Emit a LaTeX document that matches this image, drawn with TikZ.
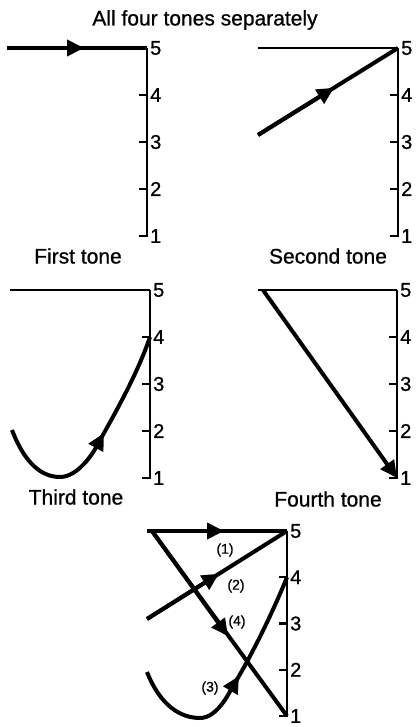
\documentclass[tikz,border=0pt]{standalone}
\usepackage{fontspec}
\setmainfont{Liberation Sans}[FakeBold=0.8]
\usetikzlibrary{arrows.meta}
\newcommand{\toneaxis}[4]{%
  \foreach \k in {1,...,5} {\coordinate (#1-\k) at (#2,{#3+(5-\k)*#4});}
  \draw[axisline] (#1-5) -- (#1-1) -- ++(-8,0);
  \foreach \k in {2,3,4} {\draw[axisline] (#1-\k) -- ++(-8,0);}
  \foreach \k in {1,...,5} {\node[lvl] (#1-l\k) at ([xshift=3pt]#1-\k) {\k};}
}
\begin{document}
\begin{tikzpicture}[x=1pt,y=-1pt,
  axisline/.style={line width=2.2pt},
  levelline/.style={line width=1.9pt},
  toneline/.style={line width=4pt},
  tip/.style={-{Triangle[length=17pt,width=16pt]}},
  lvl/.style={anchor=west,inner sep=0pt,font=\fontsize{20}{20}\selectfont},
  caption/.style={inner sep=0pt,font=\fontsize{21}{21}\selectfont},
  small/.style={inner sep=0pt,font=\fontsize{14}{14}\selectfont}]
\useasboundingbox (0,0) rectangle (415,727);
\node[caption] (title) at (205,20) {All four tones separately};
% Panel 1: first tone
\toneaxis{A}{147}{48}{47}
\coordinate (A-s) at (7,48);
\coordinate (A-t) at (84,48);
\draw[toneline] (A-s) -- (A-5);
\draw[toneline,tip] (A-s) -- (A-t);
\node[caption] (cap1) at (78,256) {First tone};
% Panel 2: second tone
\toneaxis{B}{398}{48}{47}
\coordinate (B-h) at (258,48);
\draw[levelline] (B-h) -- (B-5);
\coordinate (B-s) at (258,135);
\coordinate (B-t) at (334,87.8);
\draw[toneline] (B-s) -- (B-5);
\draw[toneline,tip] (B-s) -- (B-t);
\node[caption] (cap2) at (328,256) {Second tone};
% Panel 3: third tone
\toneaxis{C}{150}{290}{47}
\coordinate (C-h) at (10,290);
\draw[levelline] (C-h) -- (C-5);
\coordinate (C-s) at (12,430);
\coordinate (C-t) at (104,433);
\draw[toneline] (C-t) .. controls (118,408) and (138,372) .. (C-4);
\draw[toneline,tip] (C-s) .. controls (25,464) and (42,477) .. (60,477) .. controls (78,477) and (93,453) .. (C-t);
\draw[toneline] (C-t) -- ++(-3,5.4);
\node[caption] (cap3) at (76,497) {Third tone};
% Panel 4: fourth tone
\toneaxis{D}{397}{290}{47}
\coordinate (D-h) at (258,290);
\draw[levelline] (D-h) -- (D-5);
\coordinate (D-s) at (263,290);
\draw[toneline,tip] (D-s) -- (D-1);
\node[caption] (cap4) at (328,499) {Fourth tone};
% Panel 5: all four together
\toneaxis{E}{287}{531}{46.25}
\coordinate (E-s1) at (147,531);
\coordinate (E-t1) at (224,531);
\draw[toneline] (E-s1) -- (E-5);
\draw[toneline,tip] (E-s1) -- (E-t1);
\coordinate (E-s2) at (147,619);
\coordinate (E-t2) at (219,573.7);
\draw[toneline] (E-s2) -- (E-5);
\draw[toneline,tip] (E-s2) -- (E-t2);
\coordinate (E-s4) at (152,531);
\coordinate (E-t4) at (228,636.2);
\draw[toneline] (E-s4) -- (E-1);
\draw[toneline,tip] (E-s4) -- (E-t4);
\coordinate (E-s3) at (147,672);
\coordinate (E-t3) at (239,676);
\draw[toneline] (E-t3) .. controls (254,650) and (272,614) .. (E-4);
\draw[toneline,tip] (E-s3) .. controls (160,705) and (180,718) .. (200,718) .. controls (217,718) and (229,693) .. (E-t3);
\draw[toneline] (E-t3) -- ++(-3,5.1);
\node[small] (n1) at (225,550) {(1)};
\node[small] (n2) at (236,586) {(2)};
\node[small] (n4) at (237,622) {(4)};
\node[small] (n3) at (210,688) {(3)};
\end{tikzpicture}
\end{document}
